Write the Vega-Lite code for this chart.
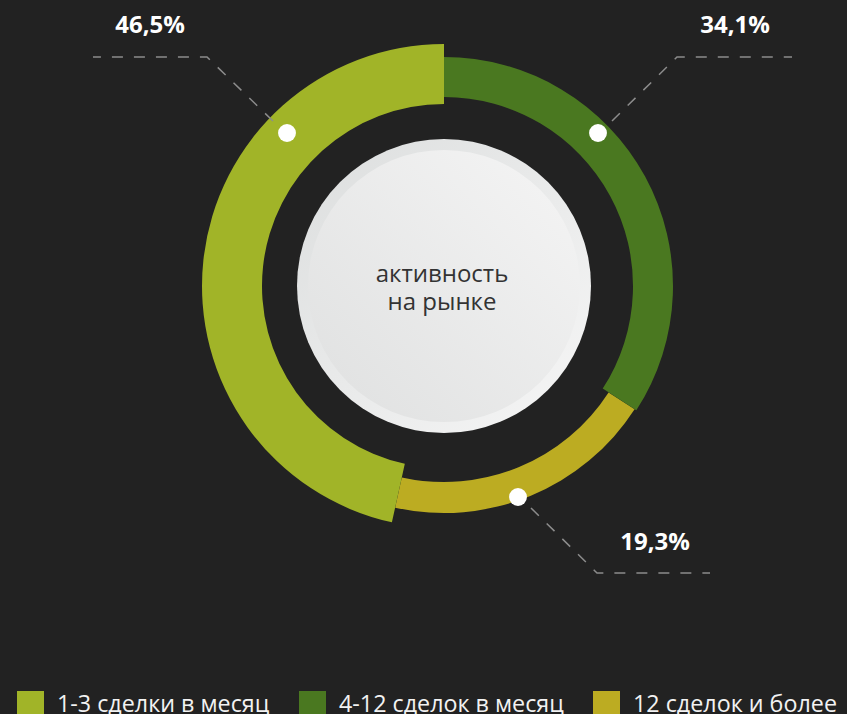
{
  "$schema": "https://vega.github.io/schema/vega-lite/v6.json",
  "width": 847,
  "height": 714,
  "padding": 0,
  "autosize": {"type": "none"},
  "background": "#222222",
  "config": {"view": {"stroke": null}, "font": "Open Sans"},
  "datasets": {
    "shares": [
      {"cat": "4-12 сделок в месяц", "value": 34.1},
      {"cat": "12 сделок и более", "value": 19.3},
      {"cat": "1-3 сделки в месяц", "value": 46.5}
    ],
    "leaders": [
      {"cat": "1-3", "seq": 0, "px": 273, "py": 121},
      {"cat": "1-3", "seq": 1, "px": 207, "py": 57},
      {"cat": "1-3", "seq": 2, "px": 93, "py": 57},
      {"cat": "4-12", "seq": 0, "px": 612, "py": 121},
      {"cat": "4-12", "seq": 1, "px": 677, "py": 57},
      {"cat": "4-12", "seq": 2, "px": 792, "py": 57},
      {"cat": "12+", "seq": 0, "px": 531, "py": 508},
      {"cat": "12+", "seq": 1, "px": 597, "py": 573},
      {"cat": "12+", "seq": 2, "px": 710, "py": 573}
    ],
    "dots": [
      {"cat": "1-3", "px": 287, "py": 133},
      {"cat": "4-12", "px": 598, "py": 133},
      {"cat": "12+", "px": 518, "py": 497}
    ],
    "labels": [
      {"label": "46,5%", "px": 150, "py": 33},
      {"label": "34,1%", "px": 735, "py": 33},
      {"label": "19,3%", "px": 655, "py": 550}
    ]
  },
  "layer": [
    {
      "data": {"values": [{}]},
      "mark": {"type": "arc", "theta": 0, "theta2": 6.2832, "radius": 147,
        "fill": {"gradient": "linear", "x1": 0, "y1": 0, "x2": 1, "y2": 1,
          "stops": [{"offset": 0, "color": "#dcdede"}, {"offset": 1, "color": "#f6f6f6"}]}},
      "encoding": {
        "x": {"datum": 444, "type": "quantitative", "scale": {"domain": [0, 847], "nice": false, "zero": false}, "axis": null},
        "y": {"datum": 286, "type": "quantitative", "scale": {"domain": [0, 714], "reverse": true, "nice": false, "zero": false}, "axis": null}
      }
    },
    {
      "data": {"values": [{}]},
      "mark": {"type": "arc", "theta": 0, "theta2": 6.2832, "radius": 136,
        "fill": {"gradient": "linear", "x1": 1, "y1": 0, "x2": 0, "y2": 1,
          "stops": [{"offset": 0, "color": "#f5f5f5"}, {"offset": 1, "color": "#dfe0e0"}]}},
      "encoding": {
        "x": {"datum": 444, "type": "quantitative"},
        "y": {"datum": 286, "type": "quantitative"}
      }
    },
    {
      "data": {"values": [{}]},
      "mark": {"type": "text", "align": "center", "baseline": "alphabetic", "fontSize": 24, "lineHeight": 28, "color": "#333333", "font": "Open Sans"},
      "encoding": {
        "x": {"datum": 442, "type": "quantitative"},
        "y": {"datum": 282, "type": "quantitative"},
        "text": {"value": ["активность", " на рынке"]}
      }
    },
    {
      "data": {"name": "shares"},
      "transform": [
        {"stack": "value", "groupby": [], "as": ["t0", "t1"]},
        {"filter": "datum.cat === '12 сделок и более'"}
      ],
      "mark": {"type": "arc", "radius": 227, "radius2": 196},
      "encoding": {
        "x": {"datum": 444, "type": "quantitative"},
        "y": {"datum": 286, "type": "quantitative"},
        "theta": {"field": "t0", "type": "quantitative", "scale": {"domain": [0, 99.9]}},
        "theta2": {"field": "t1"},
        "color": {"field": "cat", "type": "nominal", "title": null,
          "scale": {"domain": ["1-3 сделки в месяц", "4-12 сделок в месяц", "12 сделок и более"], "range": ["#a1b428", "#4a7820", "#bcac22"]},
          "legend": {"orient": "none", "legendX": 17, "legendY": 691, "direction": "horizontal", "symbolType": "square", "symbolSize": 729, "symbolStrokeWidth": 0, "symbolOpacity": 1, "labelFontSize": 23.3, "labelColor": "#f2f2f2", "labelFont": "Open Sans", "labelOffset": 13, "columnPadding": 29, "padding": 0, "labelLimit": 400}}
      }
    },
    {
      "data": {"name": "shares"},
      "transform": [
        {"stack": "value", "groupby": [], "as": ["t0", "t1"]},
        {"filter": "datum.cat === '4-12 сделок в месяц'"}
      ],
      "mark": {"type": "arc", "radius": 229, "radius2": 189},
      "encoding": {
        "x": {"datum": 444, "type": "quantitative"},
        "y": {"datum": 286, "type": "quantitative"},
        "theta": {"field": "t0", "type": "quantitative"},
        "theta2": {"field": "t1"},
        "color": {"field": "cat", "type": "nominal", "title": null}
      }
    },
    {
      "data": {"name": "shares"},
      "transform": [
        {"stack": "value", "groupby": [], "as": ["t0", "t1"]},
        {"filter": "datum.cat === '1-3 сделки в месяц'"}
      ],
      "mark": {"type": "arc", "radius": 242, "radius2": 182},
      "encoding": {
        "x": {"datum": 444, "type": "quantitative"},
        "y": {"datum": 286, "type": "quantitative"},
        "theta": {"field": "t0", "type": "quantitative"},
        "theta2": {"field": "t1"},
        "color": {"field": "cat", "type": "nominal", "title": null}
      }
    },
    {
      "data": {"name": "leaders"},
      "mark": {"type": "line", "color": "#8c8c8c", "strokeWidth": 1.5, "strokeDash": [11, 11]},
      "encoding": {
        "x": {"field": "px", "type": "quantitative"},
        "y": {"field": "py", "type": "quantitative"},
        "detail": {"field": "cat"},
        "order": {"field": "seq"}
      }
    },
    {
      "data": {"name": "dots"},
      "mark": {"type": "point", "filled": true, "color": "#ffffff", "opacity": 1, "size": 320},
      "encoding": {
        "x": {"field": "px", "type": "quantitative"},
        "y": {"field": "py", "type": "quantitative"}
      }
    },
    {
      "data": {"name": "labels"},
      "mark": {"type": "text", "align": "center", "baseline": "alphabetic", "fontSize": 24, "fontWeight": "bold", "letterSpacing": 2.5, "color": "#ffffff", "font": "Open Sans"},
      "encoding": {
        "x": {"field": "px", "type": "quantitative"},
        "y": {"field": "py", "type": "quantitative"},
        "text": {"field": "label"}
      }
    }
  ]
}
